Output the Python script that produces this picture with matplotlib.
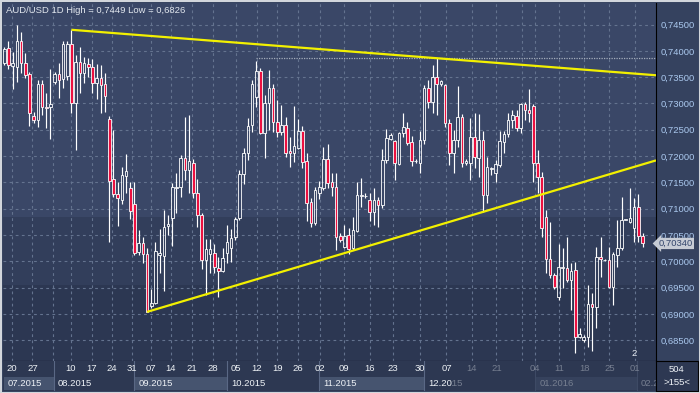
import matplotlib
matplotlib.use("Agg")
import matplotlib.pyplot as plt
import matplotlib.transforms as mtransforms
from matplotlib.patches import Rectangle
from matplotlib.ticker import FuncFormatter
import numpy as np

plt.rcParams["font.family"] = ["Liberation Sans", "DejaVu Sans"]

# daily AUD/USD candles
opens = [
    0.7377, 0.7405, 0.7371, 0.7369, 0.7419, 0.7377, 0.7356, 0.7276, 0.7269, 0.7337,
    0.7293, 0.7293, 0.7341, 0.7356, 0.7346, 0.7352, 0.7413, 0.7301, 0.7379, 0.7358,
    0.7375, 0.7369, 0.7339, 0.7348, 0.7337, 0.7270, 0.7156, 0.7128, 0.7117, 0.7162,
    0.7139, 0.7109, 0.7018, 0.7035, 0.7014, 0.6915, 0.6921, 0.7012, 0.7010, 0.7067,
    0.7082, 0.7139, 0.7141, 0.7196, 0.7174, 0.7187, 0.7130, 0.7088, 0.7003, 0.7014,
    0.7016, 0.6987, 0.6982, 0.7016, 0.7025, 0.7046, 0.7082, 0.7166, 0.7206, 0.7259,
    0.7312, 0.7362, 0.7244, 0.7301, 0.7329, 0.7265, 0.7246, 0.7259, 0.7210, 0.7206,
    0.7215, 0.7248, 0.7191, 0.7113, 0.7073, 0.7130, 0.7139, 0.7194, 0.7151, 0.7141,
    0.7048, 0.7027, 0.7050, 0.7025, 0.7058, 0.7124, 0.7124, 0.7117, 0.7094, 0.7117,
    0.7107, 0.7193, 0.7232, 0.7229, 0.7185, 0.7244, 0.7253, 0.7227, 0.7191, 0.7187,
    0.7231, 0.7329, 0.7303, 0.7350, 0.7337, 0.7335, 0.7263, 0.7206, 0.7231, 0.7274,
    0.7187, 0.7187, 0.7236, 0.7196, 0.7231, 0.7126, 0.7175, 0.7168, 0.7183, 0.7227,
    0.7242, 0.7269, 0.7276, 0.7253, 0.7299, 0.7288, 0.7295, 0.7187, 0.7160, 0.7084,
    0.7004, 0.6974, 0.6932, 0.6987, 0.6987, 0.6965, 0.6984, 0.6856, 0.6851, 0.6856,
    0.6919, 0.6913, 0.7008, 0.7003, 0.7003, 0.6951, 0.7012, 0.7025, 0.7079, 0.7075,
    0.7063, 0.7103, 0.7048,
]
closes = [
    0.7403, 0.7373, 0.7377, 0.7419, 0.7377, 0.7354, 0.7282, 0.7269, 0.7337, 0.7293,
    0.7291, 0.7299, 0.7356, 0.7345, 0.7413, 0.7413, 0.7301, 0.7379, 0.7358, 0.7377,
    0.7369, 0.7339, 0.7348, 0.7335, 0.7314, 0.7153, 0.7128, 0.7120, 0.7164, 0.7172,
    0.7096, 0.7016, 0.7035, 0.7014, 0.6904, 0.6921, 0.7020, 0.7016, 0.7065, 0.7071,
    0.7141, 0.7141, 0.7196, 0.7174, 0.7191, 0.7130, 0.7088, 0.7003, 0.7023, 0.7023,
    0.6989, 0.6982, 0.7006, 0.7037, 0.7044, 0.7080, 0.7166, 0.7206, 0.7257, 0.7337,
    0.7362, 0.7244, 0.7301, 0.7329, 0.7265, 0.7246, 0.7259, 0.7206, 0.7206, 0.7219,
    0.7248, 0.7189, 0.7111, 0.7073, 0.7136, 0.7141, 0.7194, 0.7149, 0.7141, 0.7046,
    0.7041, 0.7048, 0.7023, 0.7060, 0.7126, 0.7126, 0.7125, 0.7094, 0.7117, 0.7107,
    0.7193, 0.7234, 0.7240, 0.7187, 0.7244, 0.7255, 0.7225, 0.7191, 0.7190, 0.7231,
    0.7329, 0.7303, 0.7350, 0.7337, 0.7343, 0.7263, 0.7206, 0.7231, 0.7274, 0.7187,
    0.7191, 0.7236, 0.7198, 0.7231, 0.7126, 0.7179, 0.7177, 0.7185, 0.7229, 0.7242,
    0.7269, 0.7278, 0.7253, 0.7299, 0.7288, 0.7282, 0.7187, 0.7160, 0.7063, 0.7004,
    0.6974, 0.6951, 0.6989, 0.6989, 0.6965, 0.6982, 0.6856, 0.6862, 0.6856, 0.6919,
    0.6913, 0.7008, 0.7004, 0.7002, 0.6951, 0.7014, 0.7025, 0.7079, 0.7080, 0.7082,
    0.7103, 0.7048, 0.7034,
]
highs = [
    0.7407, 0.7419, 0.7398, 0.7449, 0.7436, 0.7396, 0.7360, 0.7284, 0.7345, 0.7345,
    0.7320, 0.7366, 0.7360, 0.7377, 0.7419, 0.7419, 0.7440, 0.7392, 0.7407, 0.7388,
    0.7386, 0.7385, 0.7375, 0.7373, 0.7358, 0.7276, 0.7250, 0.7151, 0.7179, 0.7204,
    0.7151, 0.7151, 0.7060, 0.7046, 0.7025, 0.6947, 0.7037, 0.7061, 0.7098, 0.7088,
    0.7149, 0.7168, 0.7202, 0.7274, 0.7278, 0.7194, 0.7156, 0.7092, 0.7043, 0.7043,
    0.7033, 0.7008, 0.7025, 0.7069, 0.7061, 0.7084, 0.7174, 0.7215, 0.7272, 0.7345,
    0.7381, 0.7367, 0.7316, 0.7364, 0.7337, 0.7307, 0.7297, 0.7274, 0.7236, 0.7295,
    0.7270, 0.7257, 0.7206, 0.7120, 0.7141, 0.7153, 0.7217, 0.7223, 0.7168, 0.7168,
    0.7054, 0.7069, 0.7063, 0.7084, 0.7151, 0.7158, 0.7130, 0.7130, 0.7139, 0.7122,
    0.7213, 0.7251, 0.7244, 0.7231, 0.7246, 0.7282, 0.7265, 0.7238, 0.7194, 0.7248,
    0.7335, 0.7345, 0.7373, 0.7386, 0.7345, 0.7337, 0.7270, 0.7250, 0.7333, 0.7280,
    0.7194, 0.7272, 0.7282, 0.7280, 0.7248, 0.7198, 0.7179, 0.7193, 0.7248, 0.7248,
    0.7282, 0.7288, 0.7288, 0.7301, 0.7303, 0.7328, 0.7299, 0.7212, 0.7170, 0.7098,
    0.7075, 0.6978, 0.7033, 0.7025, 0.7046, 0.6997, 0.6999, 0.6873, 0.6860, 0.6955,
    0.6940, 0.7027, 0.7046, 0.7004, 0.7027, 0.7018, 0.7079, 0.7122, 0.7080, 0.7139,
    0.7120, 0.7128, 0.7054,
]
lows = [
    0.7373, 0.7365, 0.7327, 0.7341, 0.7358, 0.7348, 0.7257, 0.7263, 0.7255, 0.7278,
    0.7253, 0.7232, 0.7337, 0.7310, 0.7329, 0.7345, 0.7282, 0.7212, 0.7320, 0.7339,
    0.7350, 0.7320, 0.7308, 0.7282, 0.7284, 0.7037, 0.7122, 0.7067, 0.7109, 0.7130,
    0.7080, 0.7012, 0.7012, 0.6997, 0.6903, 0.6911, 0.6919, 0.6978, 0.6944, 0.7050,
    0.7029, 0.7092, 0.7122, 0.7155, 0.7130, 0.7120, 0.7065, 0.6985, 0.6936, 0.6978,
    0.6978, 0.6932, 0.6980, 0.6997, 0.6999, 0.7041, 0.7079, 0.7147, 0.7193, 0.7246,
    0.7293, 0.7242, 0.7196, 0.7250, 0.7246, 0.7236, 0.7240, 0.7198, 0.7179, 0.7189,
    0.7213, 0.7177, 0.7077, 0.7065, 0.7069, 0.7118, 0.7136, 0.7139, 0.7124, 0.7022,
    0.7037, 0.7025, 0.7014, 0.7022, 0.7056, 0.7103, 0.7120, 0.7077, 0.7069, 0.7065,
    0.7101, 0.7187, 0.7231, 0.7155, 0.7183, 0.7236, 0.7221, 0.7181, 0.7187, 0.7168,
    0.7223, 0.7291, 0.7282, 0.7278, 0.7333, 0.7255, 0.7183, 0.7168, 0.7217, 0.7179,
    0.7183, 0.7155, 0.7177, 0.7160, 0.7094, 0.7111, 0.7164, 0.7151, 0.7179, 0.7206,
    0.7236, 0.7253, 0.7248, 0.7244, 0.7269, 0.7265, 0.7151, 0.7130, 0.7046, 0.6978,
    0.6968, 0.6947, 0.6927, 0.6949, 0.6961, 0.6908, 0.6826, 0.6854, 0.6847, 0.6837,
    0.6829, 0.6873, 0.6970, 0.7001, 0.6949, 0.6917, 0.6989, 0.7022, 0.7078, 0.7073,
    0.7037, 0.7037, 0.7027,
]

# week ticks (bar index) and their day labels; "" = grid line without label
week_pos = [1.8, 6.7, 11.5, 15.8, 20.8, 25.6, 30.3, 34.9, 39.6, 44.6, 49.6, 55.2,
            60.1, 65.0, 70.0, 75.2, 80.9, 87.1, 92.5, 99.0, 105.3, 111.3, 117.2,
            123.4, 126.4, 132.2, 138.1, 144.1, 150.1]
week_labels = ["20", "27", "", "10", "17", "24", "31", "07", "14", "21", "28", "05",
               "12", "19", "26", "02", "09", "16", "23", "30", "07", "14", "21",
               "", "04", "11", "18", "25", "01"]
# month boundaries (bar index) and names
month_start = [-0.3, 11.8, 30.9, 53.0, 74.9, 99.9, 126.4, 150.6]
month_labels = ["07.2015", "08.2015", "09.2015", "10.2015", "11.2015", "12.2015",
                "01.2016", "02.2"]

# trend lines: two anchor points each (bar index, price)
upper_line = [(16, 0.7440), (103, 0.7386)]
lower_line = [(34, 0.6904), (114, 0.7094)]
resist_level = 0.7386
resist_from = 60
last_price = 0.7034

o = np.array(opens)
c = np.array(closes)
h = np.array(highs)
l = np.array(lows)
x = np.arange(len(o))

W, H = 700, 393
BG = "#35425f"
FS = 6.8
fig = plt.figure(figsize=(7, 3.93), dpi=100, facecolor=BG)
ax = fig.add_axes([3 / W, 32 / H, 653 / W, 358 / H])
axb = fig.add_axes([3 / W, 2 / H, 653 / W, 30 / H], sharex=ax)

x_right = 155.2
ax.set_xlim(-0.3, x_right)
ax.set_ylim(0.68107, 0.74909)

# background bands
ax.set_facecolor("#2c3752")
ax.add_patch(Rectangle((0, 0.212), 1, 0.19, transform=ax.transAxes,
                       color="#323e5b", zorder=0, lw=0))
ax.add_patch(Rectangle((0, 0.402), 1, 0.6, transform=ax.transAxes,
                       color="#3a4767", zorder=0, lw=0))

# grid
gcol = "#64738f"
for wp in week_pos:
    ax.axvline(wp, color=gcol, lw=0.8, dashes=(2.5, 3), zorder=1)
yt = np.arange(0.685, 0.7451, 0.005)
for v in yt:
    ax.axhline(v, color=gcol, lw=0.8, dashes=(2.5, 3), zorder=1)

# candles
top = np.maximum(o, c)
bot = np.minimum(o, c)
ax.vlines(x, top, h, color="white", lw=0.85, zorder=3)
ax.vlines(x, l, bot, color="white", lw=0.85, zorder=3)
up = c >= o
hgt = np.maximum(top - bot, 0.00008)
ax.bar(x[~up], hgt[~up], bottom=bot[~up], width=0.62, facecolor="#ec1040",
       edgecolor="white", lw=0.6, zorder=4)
ax.bar(x[up], hgt[up], bottom=bot[up], width=0.62, facecolor="none",
       edgecolor="white", lw=0.6, zorder=4)

# trend lines, extended to the right edge
for (x1, y1), (x2, y2) in (upper_line, lower_line):
    k = (y2 - y1) / (x2 - x1)
    ax.plot([x1, x_right], [y1, y1 + k * (x_right - x1)], color="#f2f000",
            lw=1.6, zorder=5, solid_capstyle="butt")
ax.plot([resist_from, x_right], [resist_level, resist_level], color="#a4adbb",
        lw=0.9, dashes=(1, 1), zorder=2)

# right price axis
ax.yaxis.tick_right()
ax.set_yticks(yt)
ax.yaxis.set_major_formatter(FuncFormatter(lambda v, p: f"{v:.5f}".replace(".", ",")))
ax.tick_params(axis="y", length=0, pad=3, labelcolor="#aac8ee", labelsize=FS)
ax.tick_params(axis="x", length=0, labelbottom=False)
for s in ("top", "left"):
    ax.spines[s].set_visible(False)
ax.spines["right"].set_color("black")
ax.spines["bottom"].set_color("black")

tr = mtransforms.blended_transform_factory(ax.transAxes, ax.transData)
ax.text(1.004, last_price, "0,70340", transform=tr, va="center", ha="left",
        fontsize=FS, color="#34466c", zorder=10, clip_on=False,
        bbox=dict(boxstyle="larrow,pad=0.12", fc="#c7ccd5", ec="none"))

ax.text(0.004, 0.992, "AUD/USD 1D High = 0,7449 Low = 0,6826", transform=ax.transAxes,
        va="top", ha="left", fontsize=FS, color="#e2e7ee", zorder=10)
trx = mtransforms.blended_transform_factory(ax.transData, ax.transAxes)
ax.text(149.9, 0.008, "2", transform=trx, ha="center", va="bottom",
        fontsize=FS, color="#e8ecf2", zorder=10)

# bottom date strip
axb.set_facecolor("#2d3852")
axb.set_ylim(0, 1)
axb.tick_params(length=0, labelbottom=False, labelleft=False)
for s in axb.spines.values():
    s.set_visible(False)
for i, (ms, name) in enumerate(zip(month_start, month_labels)):
    me = month_start[i + 1] if i + 1 < len(month_start) else x_right
    if i % 2 == 0:
        axb.add_patch(Rectangle((ms + 0.3, 0.04), me - ms - 0.3, 0.44,
                                facecolor="#46546f", edgecolor="none", zorder=1))
    if i > 0:
        axb.axvline(ms, color="#5a6885", lw=0.8, zorder=2)
    axb.text(ms + 1.0, 0.26, name, ha="left", va="center", fontsize=FS,
             color="#eef2f6", zorder=3, clip_on=True)
for wp, lab in zip(week_pos, week_labels):
    axb.text(wp, 0.74, lab, ha="center", va="center", fontsize=FS,
             color="#eef2f6", zorder=3)
# dimmed (scrolled) part of the strip
axb.add_patch(Rectangle((106.8, 0), 60, 1, facecolor="#2d3852", alpha=0.62,
                        edgecolor="none", zorder=6))

# bottom-right corner cell
corner = fig.add_axes([656 / W, 2 / H, 42 / W, 30 / H])
corner.set_facecolor("#2d3852")
corner.set_xticks([])
corner.set_yticks([])
for s in corner.spines.values():
    s.set_color("black")
    s.set_linewidth(0.8)
corner.text(0.5, 0.7, "504", ha="center", va="center", fontsize=FS, color="#eef2f6",
            transform=corner.transAxes)
corner.text(0.5, 0.27, ">155<", ha="center", va="center", fontsize=FS, color="#eef2f6",
            transform=corner.transAxes)

# light window frame
fig.patches.append(Rectangle((0, 0), 1, 1, transform=fig.transFigure,
                             facecolor="none", edgecolor="#d2d6dc", lw=2.2))

fig.savefig("out.png", dpi=100, facecolor=BG)
